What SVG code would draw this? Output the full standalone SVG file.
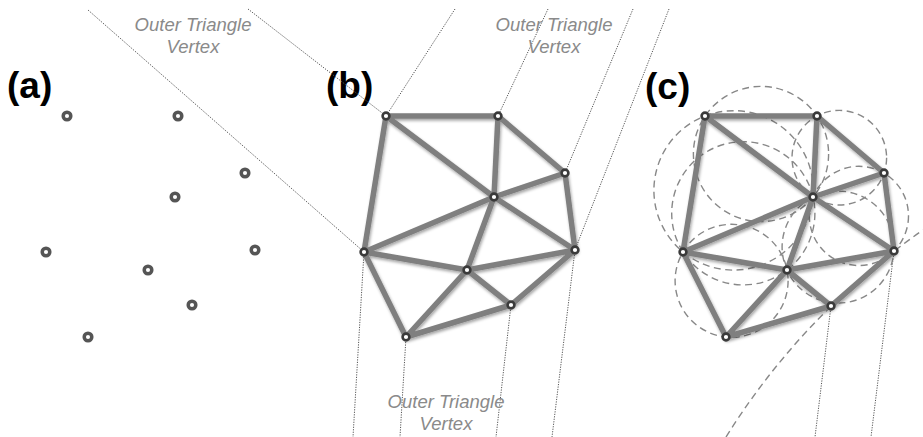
<svg xmlns="http://www.w3.org/2000/svg" width="923" height="437" viewBox="0 0 923 437">
<defs>
<filter id="sh" x="-20%" y="-20%" width="140%" height="140%">
<feDropShadow dx="1" dy="2" stdDeviation="1.5" flood-color="#000" flood-opacity="0.35"/>
</filter>
</defs>
<style>
.lab{font-family:"Liberation Sans",Arial,sans-serif;font-weight:bold;font-size:37px;fill:#000}
.ot{font-family:"Liberation Sans",Arial,sans-serif;font-style:italic;font-size:18.5px;fill:#8a8a8a;text-anchor:middle}
.dot{stroke:#555;stroke-width:1;stroke-dasharray:1.2 1.3;fill:none}
.dash{stroke:#888;stroke-width:1.4;stroke-dasharray:7 4.5;fill:none}
.e{stroke:#7f7f7f;stroke-width:5.5;stroke-linecap:round;fill:none}
.pa{fill:#fff;stroke:#555;stroke-width:3.5}
.pb{fill:#fff;stroke:#3a3a3a;stroke-width:2.6}
</style>
<rect width="923" height="437" fill="#fff"/>

<text class="lab" x="7" y="98">(a)</text>
<text class="lab" x="326" y="98">(b)</text>
<text class="lab" x="645" y="99">(c)</text>

<g id="connectors">
<line class="dot" x1="88" y1="10" x2="364" y2="252"/>
<line class="dot" x1="248" y1="9" x2="386" y2="116"/>
<line class="dot" x1="455" y1="9" x2="386" y2="116"/>
<line class="dot" x1="548" y1="9" x2="498" y2="116"/>
<line class="dot" x1="633" y1="9" x2="565" y2="173"/>
<line class="dot" x1="669" y1="9" x2="575" y2="250"/>
<line class="dot" x1="364" y1="252" x2="353" y2="437"/>
<line class="dot" x1="406" y1="337" x2="400" y2="437"/>
<line class="dot" x1="511" y1="305" x2="496" y2="437"/>
<line class="dot" x1="575" y1="250" x2="552" y2="437"/>
<line class="dot" x1="831" y1="306" x2="815" y2="437"/>
<line class="dot" x1="894" y1="251" x2="871" y2="437"/>

<circle class="dash" cx="761" cy="154" r="67.6"/>
<circle class="dash" cx="839.3" cy="157.7" r="47.3"/>
<circle class="dash" cx="858.9" cy="215.9" r="49.6"/>
<circle class="dash" cx="733.6" cy="190.4" r="79.7"/>
<circle class="dash" cx="743.3" cy="213.3" r="71.6"/>
<circle class="dash" cx="838.1" cy="247.1" r="56"/>
<circle class="dash" cx="731.6" cy="280.8" r="56.5"/>
<path class="dash" d="M726,437 A710,710 0 0 1 923,230"/>

<g filter="url(#sh)">
<path class="e" d="M386,116L498,116 M386,116L494,197 M386,116L364,252 M498,116L494,197 M498,116L565,173 M565,173L494,197 M565,173L575,250 M494,197L364,252 M494,197L467,270 M494,197L575,250 M364,252L467,270 M364,252L406,337 M467,270L575,250 M467,270L406,337 M467,270L511,305 M575,250L511,305 M406,337L511,305"/>
<path class="e" d="M705,116L817,116 M705,116L813,197 M705,116L683,252 M817,116L813,197 M817,116L884,173 M884,173L813,197 M884,173L894,251 M813,197L683,252 M813,197L787,270 M813,197L894,251 M683,252L787,270 M683,252L726,337 M787,270L894,251 M787,270L726,337 M787,270L831,306 M894,251L831,306 M726,337L831,306"/>
</g>
</g>

<g id="a1"><circle class="pa" cx="67" cy="116" r="3.8"/></g>
<g id="a2"><circle class="pa" cx="178" cy="116" r="3.8"/></g>
<g id="a3"><circle class="pa" cx="245" cy="173" r="3.8"/></g>
<g id="a4"><circle class="pa" cx="175" cy="197" r="3.8"/></g>
<g id="a5"><circle class="pa" cx="46" cy="252" r="3.8"/></g>
<g id="a6"><circle class="pa" cx="255" cy="250" r="3.8"/></g>
<g id="a7"><circle class="pa" cx="148" cy="270" r="3.8"/></g>
<g id="a8"><circle class="pa" cx="192" cy="305" r="3.8"/></g>
<g id="a9"><circle class="pa" cx="88" cy="337" r="3.8"/></g>

<g id="bA"><circle class="pb" cx="386" cy="116" r="3.4"/></g>
<g id="bB"><circle class="pb" cx="498" cy="116" r="3.4"/></g>
<g id="bC"><circle class="pb" cx="565" cy="173" r="3.4"/></g>
<g id="bD"><circle class="pb" cx="494" cy="197" r="3.4"/></g>
<g id="bE"><circle class="pb" cx="364" cy="252" r="3.4"/></g>
<g id="bF"><circle class="pb" cx="575" cy="250" r="3.4"/></g>
<g id="bG"><circle class="pb" cx="467" cy="270" r="3.4"/></g>
<g id="bH"><circle class="pb" cx="511" cy="305" r="3.4"/></g>
<g id="bI"><circle class="pb" cx="406" cy="337" r="3.4"/></g>

<g id="cA"><circle class="pb" cx="705" cy="116" r="3.4"/></g>
<g id="cB"><circle class="pb" cx="817" cy="116" r="3.4"/></g>
<g id="cC"><circle class="pb" cx="884" cy="173" r="3.4"/></g>
<g id="cD"><circle class="pb" cx="813" cy="197" r="3.4"/></g>
<g id="cE"><circle class="pb" cx="683" cy="252" r="3.4"/></g>
<g id="cF"><circle class="pb" cx="894" cy="251" r="3.4"/></g>
<g id="cG"><circle class="pb" cx="787" cy="270" r="3.4"/></g>
<g id="cH"><circle class="pb" cx="831" cy="306" r="3.4"/></g>
<g id="cI"><circle class="pb" cx="726" cy="337" r="3.4"/></g>

<g id="label1"><text class="ot" x="193" y="31">Outer Triangle</text><text class="ot" x="193" y="53">Vertex</text></g>
<g id="label2"><text class="ot" x="554" y="31">Outer Triangle</text><text class="ot" x="554" y="53">Vertex</text></g>
<g id="label3"><text class="ot" x="446" y="408">Outer Triangle</text><text class="ot" x="446" y="430">Vertex</text></g>
</svg>
